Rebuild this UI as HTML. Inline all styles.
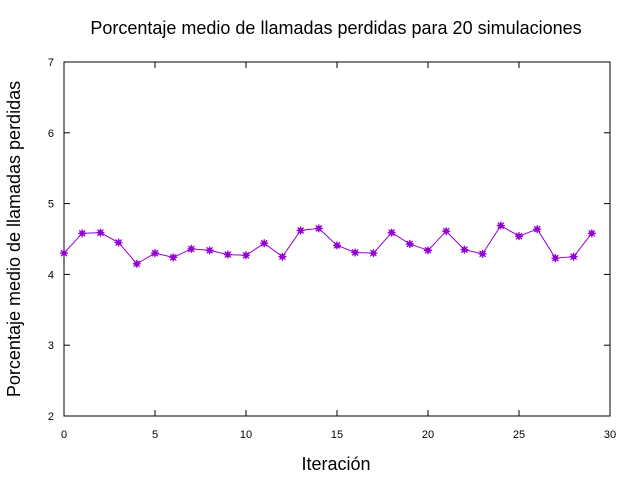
<!DOCTYPE html>
<html><head><meta charset="utf-8"><style>
body{margin:0;background:#fff;}
svg{display:block;font-family:"Liberation Sans",sans-serif;}
</style></head><body>
<svg id="chart" width="640" height="480">
<rect width="640" height="480" fill="#fff"/>
<text x="336" y="34" font-size="18" text-anchor="middle">Porcentaje medio de llamadas perdidas para 20 simulaciones</text>
<text x="336" y="470" font-size="18" text-anchor="middle">Iteración</text>
<text transform="translate(20,239) rotate(-90)" font-size="18" text-anchor="middle">Porcentaje medio de llamadas perdidas</text>
<g id="axes"></g>
<g id="series"></g>
</svg>
<script>
const xTicks=[0,5,10,15,20,25,30];
const yTicks=[2,3,4,5,6,7];
const iterations=[0,1,2,3,4,5,6,7,8,9,10,11,12,13,14,15,16,17,18,19,20,21,22,23,24,25,26,27,28,29];
const lossValues=[4.30,4.58,4.59,4.45,4.15,4.30,4.24,4.36,4.34,4.28,4.27,4.44,4.25,4.62,4.65,4.41,4.31,4.30,4.59,4.43,4.34,4.61,4.35,4.29,4.69,4.54,4.64,4.23,4.25,4.58];
const L=64,R=610,T=62,B=416;
const sx=v=>L+(v-0)/(30-0)*(R-L);
const sy=v=>B-(v-2)/(7-2)*(B-T);
const NS="http://www.w3.org/2000/svg";
const axes=document.getElementById('axes'),ser=document.getElementById('series');
function mk(tag,attrs,parent){const e=document.createElementNS(NS,tag);for(const k in attrs)e.setAttribute(k,attrs[k]);parent.appendChild(e);return e;}
const frame=mk('rect',{x:L,y:T,width:R-L,height:B-T,fill:'none',stroke:'#000','stroke-width':1},axes);


xTicks.forEach(t=>{
 const x=sx(t);
 mk('line',{x1:x,x2:x,y1:B,y2:B-6,stroke:'#000'},axes);
 mk('line',{x1:x,x2:x,y1:T,y2:T+6,stroke:'#000'},axes);
 const tx=mk('text',{x:x,y:B+22,'font-size':11,'text-anchor':'middle'},axes);
 tx.textContent=t;
 
 
});
yTicks.forEach(t=>{
 const y=sy(t);
 mk('line',{x1:L,x2:L+6,y1:y,y2:y,stroke:'#000'},axes);
 mk('line',{x1:R,x2:R-6,y1:y,y2:y,stroke:'#000'},axes);
 const tx=mk('text',{x:L-10,y:y+4,'font-size':11,'text-anchor':'end'},axes);
 tx.textContent=t;
 
 
});
const pts=iterations.map((v,i)=>sx(v)+','+sy(lossValues[i])).join(' ');
const line=mk('polyline',{points:pts,fill:'none',stroke:'#9400d3','stroke-width':1},ser);


iterations.forEach((v,i)=>{
 const x=sx(v),y=sy(lossValues[i]);
 const g=mk('g',{},ser);
 
 
 mk('circle',{cx:x,cy:y,r:2.6,fill:'#9400d3'},g);
 mk('path',{d:`M${x-4},${y}H${x+4}M${x},${y-4}V${y+4}M${x-3},${y-3}L${x+3},${y+3}M${x-3},${y+3}L${x+3},${y-3}`,stroke:'#9400d3','stroke-width':1.3},g);
});
</script>
</body></html>
